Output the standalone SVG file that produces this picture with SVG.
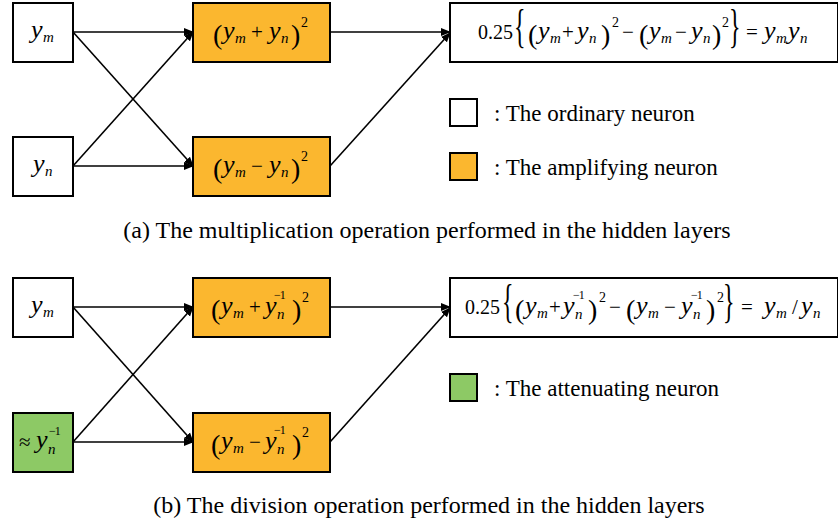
<svg xmlns="http://www.w3.org/2000/svg" width="838" height="525" viewBox="0 0 838 525">
<style>
text { font-family: "Liberation Serif", "Times New Roman", serif; fill: #000; }
.box { stroke: #000; stroke-width: 2; }
.w { fill: #fff; }
.o { fill: #FBB72F; }
.g { fill: #8DC965; }
.i { font-style: italic; font-size: 26px; }
.sb { font-style: italic; font-size: 15px; }
.sp { font-size: 14px; }
.inv { font-size: 12px; letter-spacing: -1px; }
.r { font-size: 21px; }
.num { font-size: 20px; }
.p { font-size: 28px; }
.br { font-size: 24px; }
.lg { font-size: 23px; }
.cap { font-size: 24px; }
.con line { stroke: #000; stroke-width: 1.6; fill: none; }
</style>
<defs>
<marker id="ah" markerUnits="userSpaceOnUse" markerWidth="10" markerHeight="10" viewBox="0 0 10 10" refX="9" refY="5" orient="auto">
<path d="M0,1 L10,5 L0,9 Z" fill="#000"/>
</marker>
</defs>

<g class="con" id="connectors">
<line x1="73" y1="32" x2="193" y2="32" marker-end="url(#ah)"/>
<line x1="73" y1="32" x2="193" y2="166" marker-end="url(#ah)"/>
<line x1="73" y1="166" x2="193" y2="32" marker-end="url(#ah)"/>
<line x1="73" y1="166" x2="193" y2="166" marker-end="url(#ah)"/>
<line x1="330" y1="32" x2="450" y2="32" marker-end="url(#ah)"/>
<line x1="330" y1="166" x2="450" y2="33" marker-end="url(#ah)"/>
<line x1="73" y1="307" x2="193" y2="307" marker-end="url(#ah)"/>
<line x1="73" y1="307" x2="193" y2="442" marker-end="url(#ah)"/>
<line x1="73" y1="442" x2="193" y2="307" marker-end="url(#ah)"/>
<line x1="73" y1="442" x2="193" y2="442" marker-end="url(#ah)"/>
<line x1="330" y1="307" x2="450" y2="307" marker-end="url(#ah)"/>
<line x1="330" y1="442" x2="450" y2="308" marker-end="url(#ah)"/>
</g>

<!-- Panel (a) -->
<g id="a-ym">
<rect class="box w" x="13" y="3" width="60" height="59"/>
<text><tspan class="i" x="31" y="38">y</tspan><tspan class="sb" x="43" y="42">m</tspan></text>
</g>
<g id="a-yn">
<rect class="box w" x="13" y="137" width="60" height="59"/>
<text><tspan class="i" x="33" y="172">y</tspan><tspan class="sb" x="45" y="176">n</tspan></text>
</g>
<g id="a-plus">
<rect class="box o" x="193" y="3" width="137" height="59"/>
<text><tspan class="p" x="213" y="44">(</tspan><tspan class="i" x="223" y="39">y</tspan><tspan class="sb" x="235" y="43">m</tspan><tspan class="r" x="251" y="39">+</tspan><tspan class="i" x="269" y="39">y</tspan><tspan class="sb" x="281" y="43">n</tspan><tspan class="p" x="291" y="44">)</tspan><tspan class="sp" x="301" y="27">2</tspan></text>
</g>
<g id="a-minus">
<rect class="box o" x="193" y="137" width="137" height="59"/>
<text><tspan class="p" x="213" y="178">(</tspan><tspan class="i" x="223" y="173">y</tspan><tspan class="sb" x="235" y="177">m</tspan><tspan class="r" x="251" y="173">−</tspan><tspan class="i" x="269" y="173">y</tspan><tspan class="sb" x="281" y="177">n</tspan><tspan class="p" x="291" y="178">)</tspan><tspan class="sp" x="301" y="161">2</tspan></text>
</g>
<g id="a-out">
<rect class="box w" x="450" y="3" width="388" height="59"/>
<text><tspan class="num" x="478" y="39">0.25</tspan><tspan class="p" x="528" y="44">(</tspan><tspan class="i" x="538" y="39">y</tspan><tspan class="sb" x="550" y="43">m</tspan><tspan class="r" x="562" y="39">+</tspan><tspan class="i" x="577" y="39">y</tspan><tspan class="sb" x="589" y="43">n</tspan><tspan class="p" x="601" y="44">)</tspan><tspan class="sp" x="612" y="27">2</tspan><tspan class="r" x="622" y="39">−</tspan><tspan class="p" x="639" y="44">(</tspan><tspan class="i" x="649" y="39">y</tspan><tspan class="sb" x="661" y="43">m</tspan><tspan class="r" x="675" y="39">−</tspan><tspan class="i" x="691" y="39">y</tspan><tspan class="sb" x="703" y="43">n</tspan><tspan class="p" x="712" y="44">)</tspan><tspan class="sp" x="722" y="27">2</tspan><tspan class="r" x="746" y="39">=</tspan><tspan class="i" x="764" y="39">y</tspan><tspan class="sb" x="776" y="43">m</tspan><tspan class="i" x="788" y="39">y</tspan><tspan class="sb" x="800" y="43">n</tspan></text>
<text class="br" transform="translate(514,42) scale(1,1.9)">{</text>
<text class="br" transform="translate(729,42) scale(1,1.9)">}</text>
</g>
<g id="legend-ordinary">
<rect class="box w" x="450" y="99" width="27" height="27"/>
<text class="lg" x="494" y="121">: The ordinary neuron</text>
</g>
<g id="legend-amplifying">
<rect class="box o" x="450" y="153" width="27" height="27"/>
<text class="lg" x="494" y="175">: The amplifying neuron</text>
</g>
<text id="caption-a" class="cap" x="427" y="238" text-anchor="middle">(a) The multiplication operation performed in the hidden layers</text>

<!-- Panel (b) -->
<g id="b-ym">
<rect class="box w" x="13" y="278" width="60" height="59"/>
<text><tspan class="i" x="31" y="313">y</tspan><tspan class="sb" x="43" y="317">m</tspan></text>
</g>
<g id="b-yninv">
<rect class="box g" x="13" y="413" width="60" height="59"/>
<text><tspan class="r" x="19" y="449">≈</tspan><tspan class="i" x="36" y="448">y</tspan><tspan class="sb" x="48" y="454">n</tspan><tspan class="inv" x="49" y="435">−1</tspan></text>
</g>
<g id="b-plus">
<rect class="box o" x="193" y="278" width="137" height="59"/>
<text><tspan class="p" x="211" y="319">(</tspan><tspan class="i" x="221" y="314">y</tspan><tspan class="sb" x="233" y="318">m</tspan><tspan class="r" x="249" y="314">+</tspan><tspan class="i" x="265" y="314">y</tspan><tspan class="sb" x="277" y="319">n</tspan><tspan class="inv" x="274" y="299">−1</tspan><tspan class="p" x="292" y="319">)</tspan><tspan class="sp" x="302" y="302">2</tspan></text>
</g>
<g id="b-minus">
<rect class="box o" x="193" y="413" width="137" height="59"/>
<text><tspan class="p" x="211" y="454">(</tspan><tspan class="i" x="221" y="449">y</tspan><tspan class="sb" x="233" y="453">m</tspan><tspan class="r" x="249" y="449">−</tspan><tspan class="i" x="265" y="449">y</tspan><tspan class="sb" x="277" y="454">n</tspan><tspan class="inv" x="274" y="434">−1</tspan><tspan class="p" x="292" y="454">)</tspan><tspan class="sp" x="302" y="437">2</tspan></text>
</g>
<g id="b-out">
<rect class="box w" x="450" y="278" width="388" height="59"/>
<text><tspan class="num" x="465" y="314">0.25</tspan><tspan class="p" x="515" y="319">(</tspan><tspan class="i" x="525" y="314">y</tspan><tspan class="sb" x="537" y="318">m</tspan><tspan class="r" x="549" y="314">+</tspan><tspan class="i" x="563" y="314">y</tspan><tspan class="sb" x="575" y="319">n</tspan><tspan class="inv" x="573" y="299">−1</tspan><tspan class="p" x="588" y="319">)</tspan><tspan class="sp" x="599" y="302">2</tspan><tspan class="r" x="609" y="314">−</tspan><tspan class="p" x="626" y="319">(</tspan><tspan class="i" x="636" y="314">y</tspan><tspan class="sb" x="648" y="318">m</tspan><tspan class="r" x="664" y="314">−</tspan><tspan class="i" x="681" y="314">y</tspan><tspan class="sb" x="693" y="319">n</tspan><tspan class="inv" x="691" y="299">−1</tspan><tspan class="p" x="706" y="319">)</tspan><tspan class="sp" x="717" y="302">2</tspan><tspan class="r" x="741" y="314">=</tspan><tspan class="i" x="764" y="314">y</tspan><tspan class="sb" x="776" y="318">m</tspan><tspan class="r" x="792" y="314">/</tspan><tspan class="i" x="801" y="314">y</tspan><tspan class="sb" x="813" y="318">n</tspan></text>
<text class="br" transform="translate(502,317) scale(1,1.9)">{</text>
<text class="br" transform="translate(723,317) scale(1,1.9)">}</text>
</g>
<g id="legend-attenuating">
<rect class="box g" x="450" y="374" width="27" height="27"/>
<text class="lg" x="494" y="396">: The attenuating neuron</text>
</g>
<text id="caption-b" class="cap" x="429" y="513" text-anchor="middle">(b) The division operation performed in the hidden layers</text>
</svg>
